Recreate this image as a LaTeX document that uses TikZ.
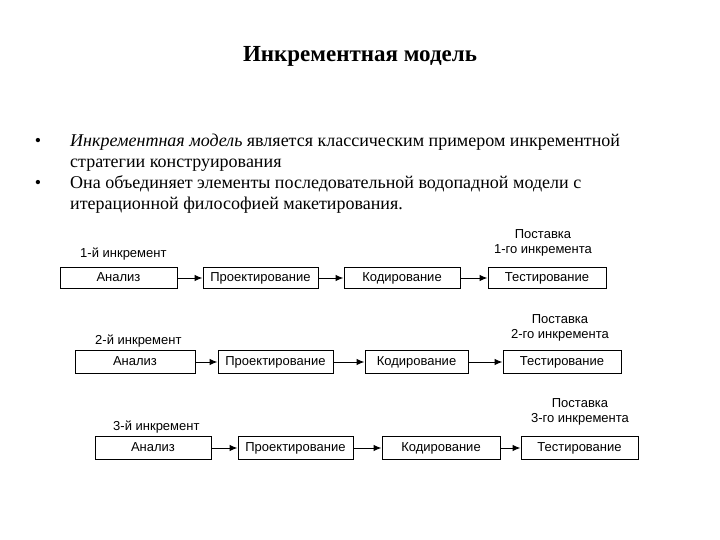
\documentclass[tikz,border=0pt]{standalone}
\usepackage{fontspec}
\setmainfont{Liberation Serif}
\newfontfamily\diagfont{Liberation Sans}
\usetikzlibrary{arrows.meta}
\tikzset{
  box/.style={draw, line width=1pt, minimum height=21pt, inner sep=0pt, text height=9pt, text depth=2.5pt, font=\diagfont\fontsize{13}{15}\selectfont},
  flow/.style={-{Latex[length=8pt,width=6.5pt]}, line width=1pt},
  lbl/.style={inner sep=0pt, anchor=base west, font=\diagfont\fontsize{13}{15}\selectfont},
  dlv/.style={inner sep=0pt, align=center, font=\diagfont\fontsize{13}{15.5}\selectfont},
  txt/.style={inner sep=0pt, anchor=base west, font=\fontsize{18}{21}\selectfont},
  bul/.style={inner sep=0pt, anchor=base, font=\fontsize{18}{21}\selectfont}
}
\begin{document}
\begin{tikzpicture}[x=1pt,y=-1pt]
\useasboundingbox (0,0) rectangle (720,540);
\node[inner sep=0pt, anchor=base, font=\bfseries\fontsize{23}{26}\selectfont] (title) at (360,62) {Инкрементная модель};

\node[bul] (b1) at (38,147) {•};
\node[txt] (t1) at (70,147) {\textit{Инкрементная модель} является классическим примером инкрементной};
\node[txt] (t2) at (70,168) {стратегии конструирования};
\node[bul] (b2) at (38,189) {•};
\node[txt] (t3) at (70,189) {Она объединяет элементы последовательной водопадной модели с};
\node[txt] (t4) at (70,210) {итерационной философией макетирования.};

% row 1
\node[lbl] (l1) at (80,257) {1-й инкремент};
\node[box, minimum width=117pt] (a1) at (118.5,278) {Анализ};
\node[box, minimum width=115pt] (p1) at (260.5,278) {Проектирование};
\node[box, minimum width=116pt] (k1) at (402,278) {Кодирование};
\node[box, minimum width=118pt] (s1) at (547,278) {Тестирование};
\node[dlv] (d1) at (543,243) {Поставка\\1-го инкремента};
\draw[flow] (a1) -- (p1);
\draw[flow] (p1) -- (k1);
\draw[flow] (k1) -- (s1);

% row 2
\node[lbl] (l2) at (95,344) {2-й инкремент};
\node[box, minimum width=120pt, minimum height=23pt] (a2) at (135,362) {Анализ};
\node[box, minimum width=115pt, minimum height=23pt] (p2) at (275.5,362) {Проектирование};
\node[box, minimum width=103pt, minimum height=23pt] (k2) at (416.5,362) {Кодирование};
\node[box, minimum width=118pt, minimum height=23pt] (s2) at (562,362) {Тестирование};
\node[dlv] (d2) at (560,328) {Поставка\\2-го инкремента};
\draw[flow] (a2) -- (p2);
\draw[flow] (p2) -- (k2);
\draw[flow] (k2) -- (s2);

% row 3
\node[lbl] (l3) at (113,430) {3-й инкремент};
\node[box, minimum width=116pt, minimum height=23pt] (a3) at (153,448) {Анализ};
\node[box, minimum width=115pt, minimum height=23pt] (p3) at (295.5,448) {Проектирование};
\node[box, minimum width=118pt, minimum height=23pt] (k3) at (441,448) {Кодирование};
\node[box, minimum width=117pt, minimum height=23pt] (s3) at (579.5,448) {Тестирование};
\node[dlv] (d3) at (580,412) {Поставка\\3-го инкремента};
\draw[flow] (a3) -- (p3);
\draw[flow] (p3) -- (k3);
\draw[flow] (k3) -- (s3);
\end{tikzpicture}
\end{document}
